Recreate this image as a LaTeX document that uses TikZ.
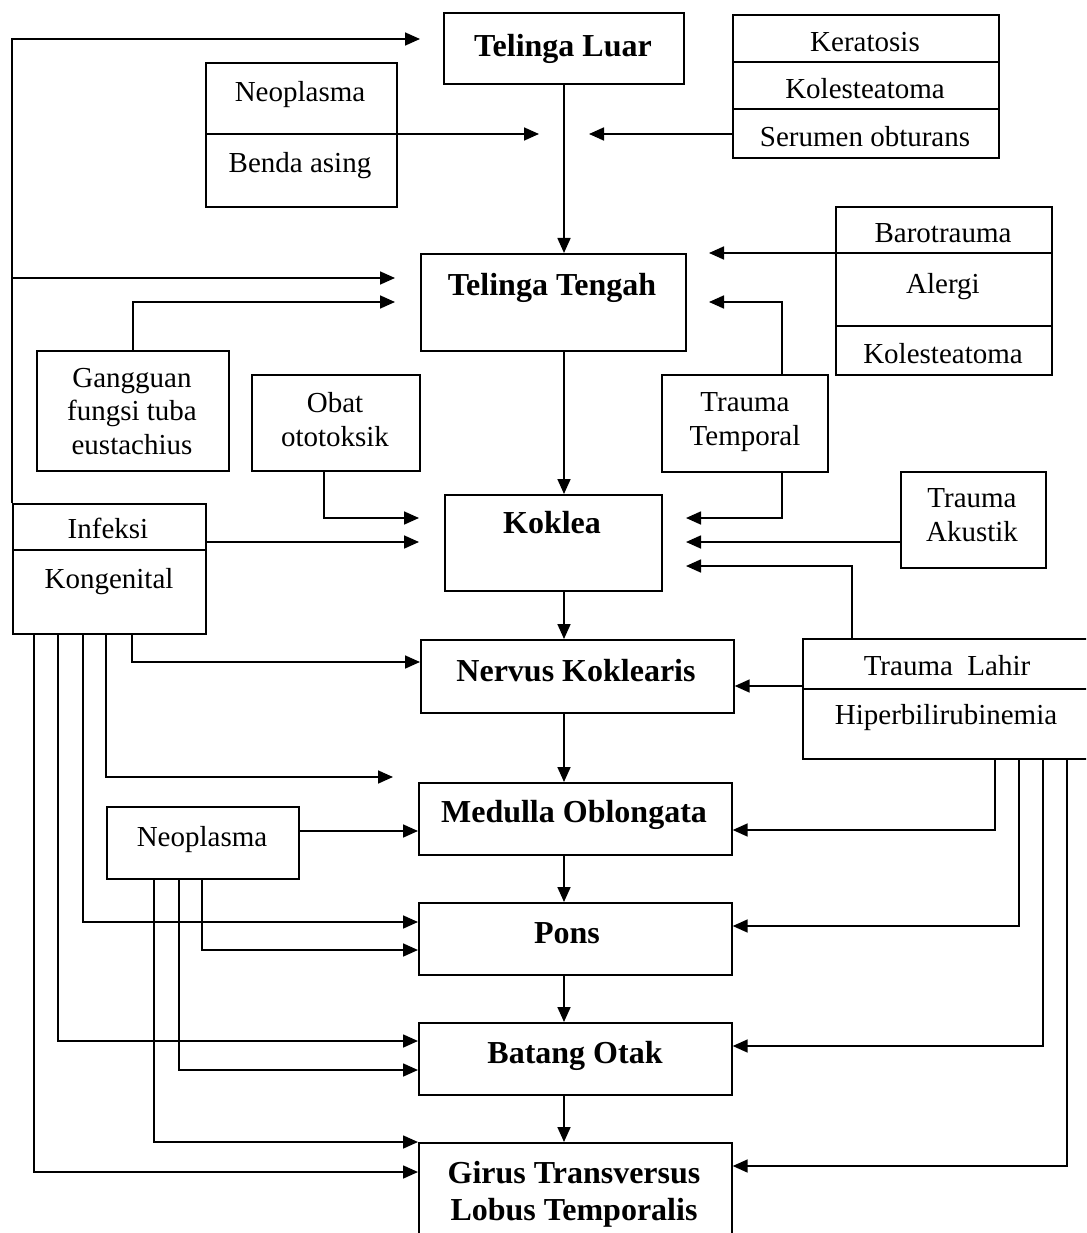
\documentclass[tikz,border=0pt]{standalone}
\usepackage{fontspec}
\setmainfont{Liberation Serif}
\usetikzlibrary{arrows.meta}
\begin{document}
\begin{tikzpicture}[x=1pt,y=-1pt,
  box/.style={draw, line width=1.7pt, inner sep=0pt, anchor=north west},
  lbl/.style={inner sep=0pt, anchor=base, font=\fontsize{29}{33}\selectfont},
  hd/.style={inner sep=0pt, anchor=base, font=\bfseries\fontsize{32}{36}\selectfont},
  link/.style={line width=1.7pt},
  arr/.style={link, -{Triangle[length=15pt,width=13pt]}},
]
\useasboundingbox (0,0) rectangle (1086,1233);
\clip (0,0) rectangle (1086,1233);

% ---------- main chain ----------
\node[box, minimum width=240pt, minimum height=71pt]  (TL) at (443,12)   {};
\node[box, minimum width=265pt, minimum height=97pt]  (TT) at (420,253)  {};
\node[box, minimum width=217pt, minimum height=96pt]  (KO) at (444,494)  {};
\node[box, minimum width=313pt, minimum height=73pt]  (NK) at (420,639)  {};
\node[box, minimum width=313pt, minimum height=72pt]  (MO) at (418,782)  {};
\node[box, minimum width=313pt, minimum height=72pt]  (PO) at (418,902)  {};
\node[box, minimum width=313pt, minimum height=72pt]  (BO) at (418,1022) {};
\node[box, minimum width=313pt, minimum height=120pt] (GT) at (418,1142) {};

\node[hd] (tTL) at (563,57)   {Telinga Luar};
\node[hd] (tTT) at (552,295)  {Telinga Tengah};
\node[hd] (tKO) at (552,533)  {Koklea};
\node[hd] (tNK) at (576,681)  {Nervus Koklearis};
\node[hd] (tMO) at (574,822)  {Medulla Oblongata};
\node[hd] (tPO) at (567,943)  {Pons};
\node[hd] (tBO) at (575,1063) {Batang Otak};
\node[hd] (tGT1) at (574,1183) {Girus Transversus};
\node[hd] (tGT2) at (574,1220) {Lobus Temporalis};

% ---------- causes ----------
\node[box, minimum width=191pt, minimum height=144pt] (NB)  at (205,62)  {};
\node[box, minimum width=266pt, minimum height=143pt] (KKS) at (732,14)  {};
\node[box, minimum width=216pt, minimum height=168pt] (BAK) at (835,206) {};
\node[box, minimum width=192pt, minimum height=120pt] (GF)  at (36,350)  {};
\node[box, minimum width=168pt, minimum height=96pt]  (OO)  at (251,374) {};
\node[box, minimum width=166pt, minimum height=97pt]  (TTe) at (661,374) {};
\node[box, minimum width=145pt, minimum height=96pt]  (TA)  at (900,471) {};
\node[box, minimum width=193pt, minimum height=130pt] (IK)  at (12,503)  {};
\node[box, minimum width=300pt, minimum height=120pt] (TLH) at (802,638) {};
\node[box, minimum width=192pt, minimum height=72pt]  (NE) at (106,806)  {};

% compartment dividers
\draw[link] ([yshift=-72]NB.north west)  -- ([yshift=-72]NB.north east);
\draw[link] ([yshift=-48]KKS.north west) -- ([yshift=-48]KKS.north east);
\draw[link] ([yshift=-95]KKS.north west) -- ([yshift=-95]KKS.north east);
\draw[link] ([yshift=-47]BAK.north west) -- ([yshift=-47]BAK.north east);
\draw[link] ([yshift=-120]BAK.north west) -- ([yshift=-120]BAK.north east);
\draw[link] ([yshift=-47]IK.north west)  -- ([yshift=-47]IK.north east);
\draw[link] ([yshift=-51]TLH.north west) -- ([yshift=-51]TLH.north east);

\node[lbl] (tNB1) at (300,102) {Neoplasma};
\node[lbl] (tNB2) at (300,173) {Benda asing};
\node[lbl] (tK1) at (865,52)  {Keratosis};
\node[lbl] (tK2) at (865,99)  {Kolesteatoma};
\node[lbl] (tK3) at (865,147) {Serumen obturans};
\node[lbl] (tB1) at (943,243) {Barotrauma};
\node[lbl] (tB2) at (943,293) {Alergi};
\node[lbl] (tB3) at (943,363) {Kolesteatoma};
\node[lbl] (tG1) at (132,387) {Gangguan};
\node[lbl] (tG2) at (132,420) {fungsi tuba};
\node[lbl] (tG3) at (132,454) {eustachius};
\node[lbl] (tO1) at (335,412) {Obat};
\node[lbl] (tO2) at (335,446) {ototoksik};
\node[lbl] (tT1) at (745,411) {Trauma};
\node[lbl] (tT2) at (745,445) {Temporal};
\node[lbl] (tA1) at (972,507) {Trauma};
\node[lbl] (tA2) at (972,541) {Akustik};
\node[lbl] (tI1) at (108,538) {Infeksi};
\node[lbl] (tI2) at (109,588) {Kongenital};
\node[lbl] (tL1) at (947,675) {Trauma\ \ Lahir};
\node[lbl] (tL2) at (946,724) {Hiperbilirubinemia};
\node[lbl] (tNE) at (202,846) {Neoplasma};

% ---------- arrow ends that stop short of a box ----------
\coordinate (spine) at (564,0);
\coordinate (eTL)  at (420,39);
\coordinate (eTT1) at (395,278);
\coordinate (eTT2) at (395,302);
\coordinate (eNB)  at (539,134);
\coordinate (eKK)  at (589,134);
\coordinate (eBa)  at (709,253);
\coordinate (eTT3) at (709,302);
\coordinate (eKO1) at (419,518);
\coordinate (eKO2) at (419,542);
\coordinate (eKO3) at (686,518);
\coordinate (eKO4) at (686,542);
\coordinate (eKO5) at (686,566);
\coordinate (eMO)  at (393,777);

% ---------- main chain arrows ----------
\draw[arr] (spine |- TL.south) -- (spine |- TT.north);
\draw[arr] (spine |- TT.south) -- (spine |- KO.north);
\draw[arr] (spine |- KO.south) -- (spine |- NK.north);
\draw[arr] (spine |- NK.south) -- (spine |- MO.north);
\draw[arr] (spine |- MO.south) -- (spine |- PO.north);
\draw[arr] (spine |- PO.south) -- (spine |- BO.north);
\draw[arr] (spine |- BO.south) -- (spine |- GT.north);

% ---------- outer ear / middle ear ----------
\draw[arr] (IK.north west) |- (eTL);
\draw[arr] (IK.north west |- eTT1) -- (eTT1);
\draw[arr] (GF.north) |- (eTT2);
\draw[arr] ([yshift=-72]NB.north east) -- (eNB);
\draw[arr] ([yshift=-120]KKS.north west) -- (eKK);
\draw[arr] ([yshift=-47]BAK.north west) -- (eBa);
\draw[arr] ([xshift=37]TTe.north) |- (eTT3);

% ---------- cochlea ----------
\draw[arr] ([xshift=-12]OO.south) |- (eKO1);
\draw[arr] ([yshift=-39]IK.north east) -- (eKO2);
\draw[arr] ([xshift=37]TTe.south) |- (eKO3);
\draw[arr] ([yshift=-71]TA.north west) -- (eKO4);
\draw[arr] ([xshift=50]TLH.north west) |- (eKO5);

% ---------- infeksi / kongenital ----------
\draw[arr] ([xshift=120]IK.south west) |- ([yshift=-23]NK.north west);
\draw[arr] ([xshift=94]IK.south west)  |- (eMO);
\draw[arr] ([xshift=71]IK.south west)  |- ([yshift=-20]PO.north west);
\draw[arr] ([xshift=46]IK.south west)  |- ([yshift=-19]BO.north west);
\draw[arr] ([xshift=22]IK.south west)  |- ([yshift=-30]GT.north west);

% ---------- neoplasma ----------
\draw[arr] ([yshift=-25]NE.north east) -- ([yshift=-49]MO.north west);
\draw[arr] ([xshift=96]NE.south west) |- ([yshift=-48]PO.north west);
\draw[arr] ([xshift=73]NE.south west) |- ([yshift=-48]BO.north west);
\draw[arr] ([xshift=48]NE.south west) |- (GT.north west);

% ---------- trauma lahir / hiperbilirubinemia ----------
\draw[arr] ([yshift=-48]TLH.north west) -- ([yshift=-47]NK.north east);
\draw[arr] ([xshift=193]TLH.south west) |- ([yshift=-48]MO.north east);
\draw[arr] ([xshift=217]TLH.south west) |- ([yshift=-24]PO.north east);
\draw[arr] ([xshift=241]TLH.south west) |- ([yshift=-24]BO.north east);
\draw[arr] ([xshift=265]TLH.south west) |- ([yshift=-24]GT.north east);
\end{tikzpicture}
\end{document}
